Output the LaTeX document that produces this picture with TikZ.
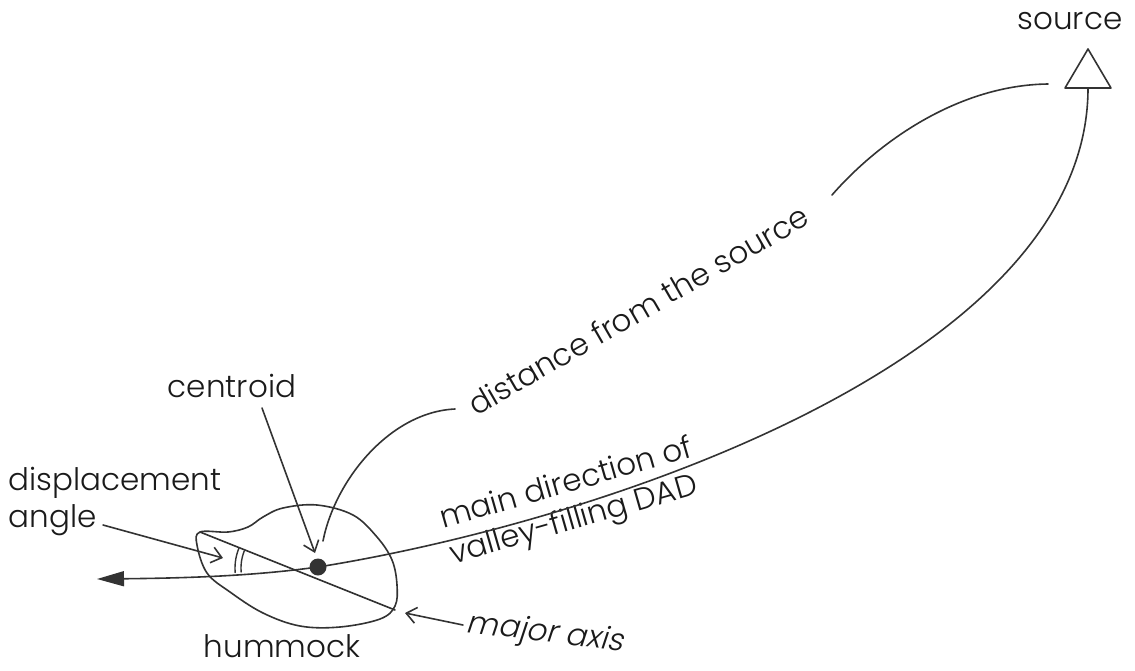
\documentclass[tikz,border=0pt]{standalone}
\usepackage{fontspec}
\setmainfont{Poppins Light}
\newfontfamily\slantfont[FakeSlant=0.2]{Poppins Light}
\usetikzlibrary{arrows.meta}
\definecolor{lc}{HTML}{333333}
\definecolor{tc}{HTML}{1A1A1A}
\begin{document}
\begin{tikzpicture}[x=1pt,y=-1pt,
  every path/.style={draw=lc, line width=1.6pt, line cap=round, line join=round},
  lbl/.style={font=\fontsize{31}{37}\selectfont, text=tc, inner sep=0pt},
  barb/.style={-{Straight Barb[length=10pt,width=16pt]}}]
\useasboundingbox[draw=none] (0,0) rectangle (1135,670);
% labels
\node[lbl, anchor=base] (srclbl) at (1070,29) {source};
\node[lbl, anchor=base] (centlbl) at (232,397) {centroid};
\node[lbl, anchor=base west] (displbl) at (8,490) {displacement};
\node[lbl, anchor=base west] (anglbl) at (8,527) {angle};
\node[lbl, anchor=base] (humlbl) at (282,657) {hummock};
\node[lbl, rotate=-7] (majlbl) at (545,634) {\slantfont major axis};
\node[lbl, rotate=30] (distlbl) at (638,310) {distance from the source};
\node[lbl, rotate=16, align=left] (mainlbl) at (572,503) {main direction of\\valley-filling DAD};
% source triangle
\draw (1088,49) -- (1111,88) -- (1065,88) -- cycle;
\coordinate (srcb) at (1088,88);
% hummock
\draw plot[smooth cycle, tension=0.6] coordinates {(200,532) (197,545) (207,573) (230,592) (263,613) (300,626) (340,627) (380,619) (395,606) (397,585) (392,560) (377,537) (353,515) (317,505) (283,508) (263,517) (248,527) (228,532)};
% major axis
\coordinate (ma1) at (200,532);
\coordinate (ma2) at (395,610);
\draw (ma1) -- (ma2);
% centroid
\node[circle, fill=lc, draw=none, minimum size=17pt, inner sep=0pt] (cen) at (318,567) {};
% main direction curve
\draw[{Triangle[length=27pt,width=15pt]}-] (97,579) .. controls (200,578) and (260,575) .. (cen.center) .. controls (600,522) and (1088,360) .. (srcb);
% distance arcs
\coordinate (d1) at (323,541);
\coordinate (d2) at (455,409);
\coordinate (d3) at (832,195);
\coordinate (d4) at (1048,84);
\draw (d1) .. controls (335,480) and (390,412) .. (d2);
\draw (d3) .. controls (880,140) and (960,85) .. (d4);
% pointer arrows
\coordinate (c1) at (262,408);
\coordinate (c2) at (315,553);
\draw[barb] (c1) -- (c2);
\coordinate (a1) at (103,525);
\coordinate (a2) at (223,558);
\draw[barb] (a1) -- (a2);
\coordinate (m1) at (463,625);
\coordinate (m2) at (405,613);
\draw[barb] (m1) -- (m2);
% angle marks
\draw[line width=1.4pt] plot[smooth, domain=175:202, samples=8] ({287+46*cos(\x)},{568+46*sin(\x)});
\draw[line width=1.4pt] plot[smooth, domain=175:202, samples=8] ({287+52*cos(\x)},{568+52*sin(\x)});
\end{tikzpicture}
\end{document}
